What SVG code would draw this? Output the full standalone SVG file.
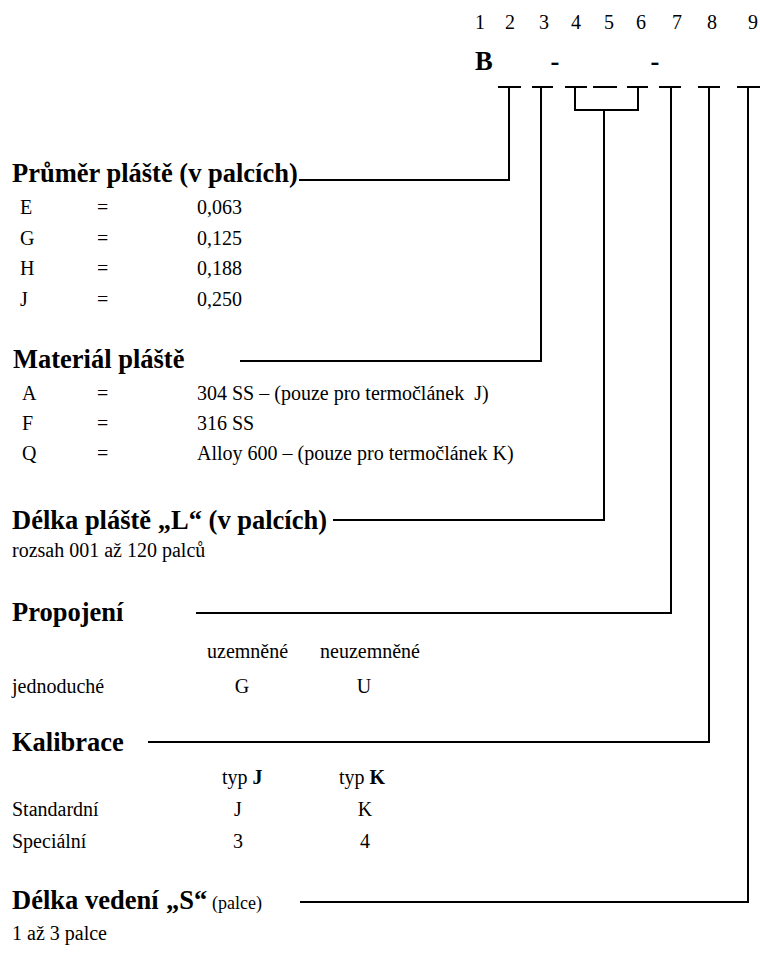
<svg xmlns="http://www.w3.org/2000/svg" width="760" height="956" viewBox="0 0 760 956">
<style>
text{font-family:"Liberation Serif","Times New Roman",serif;fill:#000}
.t{font-size:26.5px;font-weight:bold}
.b{font-size:20px}
.c{text-anchor:middle}
.ln{stroke:#000;stroke-width:2;fill:none}
</style>
<rect width="760" height="956" fill="#fff"/>
<g id="code">
<g class="b c">
<text x="480" y="29">1</text><text x="510" y="29">2</text><text x="544" y="29">3</text><text x="576" y="29">4</text><text x="609" y="29">5</text><text x="641" y="29">6</text><text x="677" y="29">7</text><text x="712" y="29">8</text><text x="753" y="29">9</text>
</g>
<text class="t" x="475" y="70">B</text>
<text class="t c" x="555" y="70">-</text>
<text class="t c" x="655" y="70">-</text>
</g>
<g id="connectors" class="ln">
<path d="M498 87H521M532 87H553M565 87H587M593 87H617M627 87H648M659 87H681M698 87H720M737 87H760"/>
<path d="M509 87V180H299"/>
<path d="M541 87V361H240"/>
<path d="M575 87V110H638V87M604 110V520H333"/>
<path d="M671 87V613H196"/>
<path d="M709 87V742H148"/>
<path d="M748 87V902H300"/>
</g>
<g id="prumer">
<text class="t" x="12" y="182">Průměr pláště (v palcích)</text>
<g class="b">
<text x="20" y="214">E</text><text x="97" y="214">=</text><text x="197" y="214">0,063</text>
<text x="20" y="245">G</text><text x="97" y="245">=</text><text x="197" y="245">0,125</text>
<text x="20" y="275">H</text><text x="97" y="275">=</text><text x="197" y="275">0,188</text>
<text x="20" y="306">J</text><text x="97" y="306">=</text><text x="197" y="306">0,250</text>
</g>
</g>
<g id="material">
<text class="t" x="13" y="368">Materiál pláště</text>
<g class="b">
<text x="22" y="400">A</text><text x="97" y="400">=</text><text x="197" y="400">304 SS – (pouze pro termočlánek <tspan dx="5">J)</tspan></text>
<text x="22" y="430">F</text><text x="97" y="430">=</text><text x="197" y="430">316 SS</text>
<text x="22" y="460">Q</text><text x="97" y="460">=</text><text x="197" y="460">Alloy 600 – (pouze pro termočlánek K)</text>
</g>
</g>
<g id="delka-plaste">
<text class="t" x="12" y="529">Délka pláště „L“ (v palcích)</text>
<text class="b" x="12" y="557">rozsah 001 až 120 palců</text>
</g>
<g id="propojeni">
<text class="t" x="12" y="621">Propojení</text>
<g class="b">
<text x="207" y="658">uzemněné</text><text x="320" y="658">neuzemněné</text>
<text x="12" y="693">jednoduché</text>
<text class="c" x="242" y="693">G</text><text class="c" x="364" y="693">U</text>
</g>
</g>
<g id="kalibrace">
<text class="t" x="12" y="751">Kalibrace</text>
<g class="b">
<text x="222" y="784">typ <tspan font-weight="bold">J</tspan></text>
<text x="339" y="784">typ <tspan font-weight="bold">K</tspan></text>
<text x="12" y="816">Standardní</text>
<text class="c" x="238" y="816">J</text><text class="c" x="365" y="816">K</text>
<text x="12" y="848">Speciální</text>
<text class="c" x="238" y="848">3</text><text class="c" x="365" y="848">4</text>
</g>
</g>
<g id="delka-vedeni">
<text class="t" x="12" y="909">Délka vedení <tspan x="166">„S“</tspan><tspan font-size="18px" font-weight="normal" x="212">(palce)</tspan></text>
<text class="b" x="12" y="940">1 až 3 palce</text>
</g>
</svg>
